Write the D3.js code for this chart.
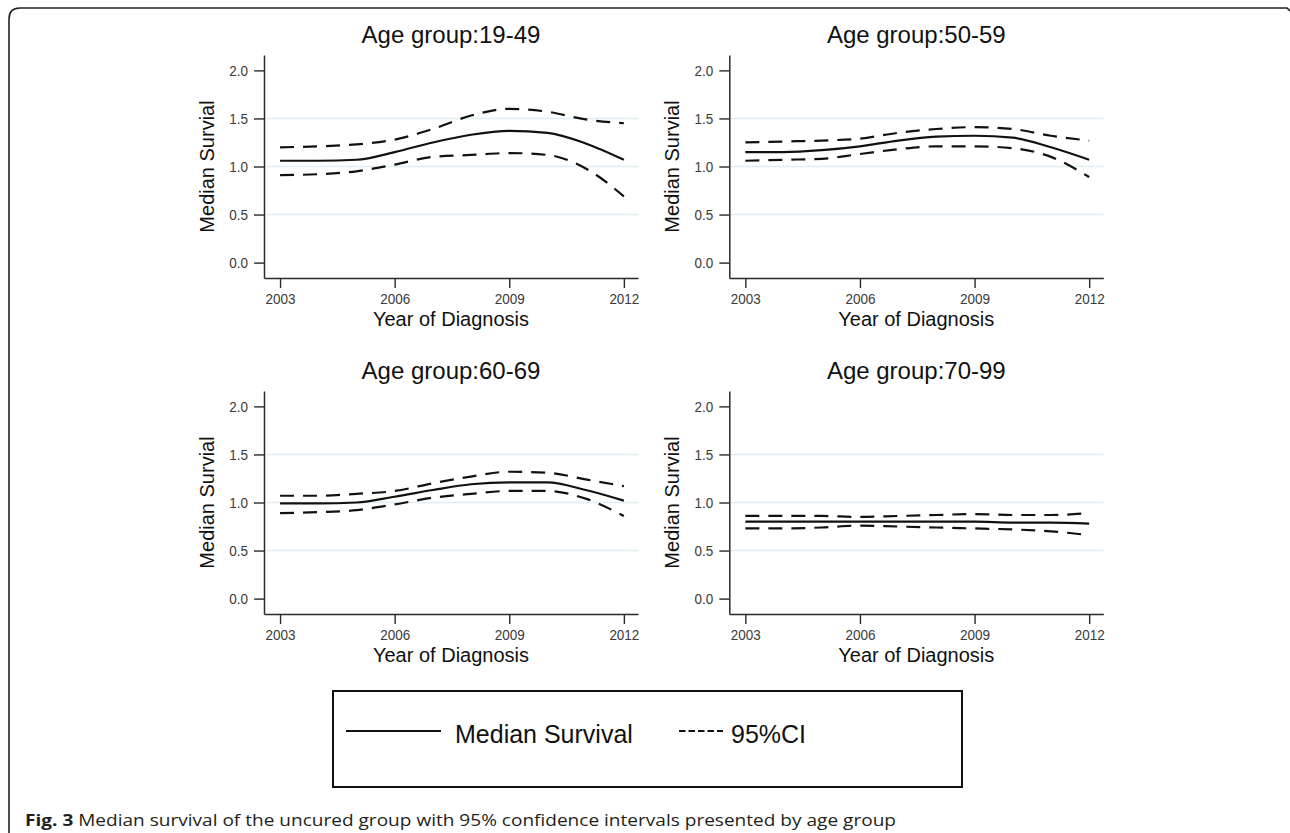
<!DOCTYPE html>
<html>
<head>
<meta charset="utf-8">
<script src="https://cdn.jsdelivr.net/npm/d3@7"></script>
<style>
  body { margin: 0; background: #fff; }
  svg { display: block; }
</style>
</head>
<body>
<svg id="chart" width="1290" height="833"></svg>
<script>
// data
var years = [2003, 2004, 2005, 2006, 2007, 2008, 2009, 2010, 2011, 2012];
var groups = ["19-49", "50-59", "60-69", "70-99"];
var yTicks = [0, 0.5, 1, 1.5, 2];
var xTicks = [2003, 2006, 2009, 2012];
var gridValues = [0.5, 1, 1.5];

var median_19_49 = [1.06, 1.06, 1.07, 1.15, 1.25, 1.33, 1.37, 1.35, 1.24, 1.07];
var upper_19_49  = [1.20, 1.21, 1.23, 1.28, 1.39, 1.53, 1.60, 1.57, 1.49, 1.45];
var lower_19_49  = [0.91, 0.92, 0.95, 1.02, 1.10, 1.12, 1.14, 1.12, 0.98, 0.69];

var median_50_59 = [1.15, 1.15, 1.17, 1.21, 1.27, 1.31, 1.32, 1.30, 1.20, 1.07];
var upper_50_59  = [1.25, 1.26, 1.27, 1.29, 1.35, 1.39, 1.41, 1.39, 1.32, 1.27];
var lower_50_59  = [1.06, 1.07, 1.08, 1.13, 1.18, 1.21, 1.21, 1.19, 1.10, 0.89];

var median_60_69 = [0.99, 0.99, 1.00, 1.06, 1.13, 1.19, 1.21, 1.21, 1.13, 1.02];
var upper_60_69  = [1.07, 1.07, 1.09, 1.12, 1.20, 1.27, 1.32, 1.31, 1.24, 1.17];
var lower_60_69  = [0.89, 0.90, 0.92, 0.98, 1.05, 1.09, 1.12, 1.12, 1.04, 0.86];

var median_70_99 = [0.80, 0.80, 0.80, 0.80, 0.80, 0.80, 0.80, 0.79, 0.79, 0.78];
var upper_70_99  = [0.86, 0.86, 0.86, 0.85, 0.86, 0.87, 0.88, 0.87, 0.87, 0.89];
var lower_70_99  = [0.73, 0.73, 0.74, 0.76, 0.75, 0.74, 0.73, 0.72, 0.70, 0.66];

var panels = [
  { name: groups[0], median: median_19_49, upper: upper_19_49, lower: lower_19_49 },
  { name: groups[1], median: median_50_59, upper: upper_50_59, lower: lower_50_59 },
  { name: groups[2], median: median_60_69, upper: upper_60_69, lower: lower_60_69 },
  { name: groups[3], median: median_70_99, upper: upper_70_99, lower: lower_70_99 }
];

var svg = d3.select("#chart");
var font = "Arial, 'Liberation Sans', sans-serif";

// outer rounded frame (runs off the right and bottom edges)
svg.append("path")
  .attr("d", "M9,833 L9,19 Q9,8 20,8 L1287,8 L1290,11")
  .attr("fill", "none")
  .attr("stroke", "#222")
  .attr("stroke-width", 1.6);

// panel geometry
var plotW = 374, plotH = 223;
var x = d3.scaleLinear().domain([2002.58, 2012.37]).range([0, plotW]);
var y = d3.scaleLinear().domain([-0.16, 2.16]).range([plotH, 0]);
var sx = 0.9; // tick labels look slightly narrow in the original

var line = d3.line()
  .x(function(d) { return x(d[0]); })
  .y(function(d) { return y(d[1]); })
  .curve(d3.curveMonotoneX);

function pairs(vals) {
  return years.map(function(yr, i) { return [yr, vals[i]]; });
}

panels.forEach(function(p, i) {
  var col = i % 2, row = Math.floor(i / 2);
  var left = 264 + col * 465.3;
  var top = 55 + row * 336;

  var g = svg.append("g").attr("transform", "translate(" + left + "," + top + ")");

  // light gridlines
  g.selectAll("line.grid").data(gridValues).enter().append("line")
    .attr("class", "grid")
    .attr("x1", 0).attr("x2", plotW)
    .attr("y1", function(d) { return y(d); })
    .attr("y2", function(d) { return y(d); })
    .attr("stroke", "#e1ecf3")
    .attr("stroke-width", 1.4);

  // axes
  var ya = g.append("g")
    .call(d3.axisLeft(y).tickValues(yTicks).tickFormat(d3.format(".1f"))
      .tickSize(10).tickSizeOuter(0).tickPadding(5));
  var xa = g.append("g").attr("transform", "translate(0," + plotH + ")")
    .call(d3.axisBottom(x).tickValues(xTicks).tickFormat(d3.format("d"))
      .tickSize(10).tickSizeOuter(0).tickPadding(5));

  [ya, xa].forEach(function(a) {
    a.select(".domain").attr("stroke", "#2a2a2a").attr("stroke-width", 1.5);
    a.selectAll(".tick line").attr("stroke", "#2a2a2a").attr("stroke-width", 1.4);
    a.selectAll(".tick text")
      .attr("fill", "#3a3a3a")
      .style("font-family", font)
      .style("font-size", "15px");
  });
  ya.selectAll(".tick text")
    .attr("x", -16 / sx)
    .attr("transform", "scale(" + sx + ",1)");
  xa.selectAll(".tick text")
    .attr("transform", "scale(" + sx + ",1)");

  // curves
  g.append("path").datum(pairs(p.upper))
    .attr("d", line).attr("fill", "none").attr("stroke", "#111")
    .attr("stroke-width", 2.2).attr("stroke-dasharray", "14,9");
  g.append("path").datum(pairs(p.lower))
    .attr("d", line).attr("fill", "none").attr("stroke", "#111")
    .attr("stroke-width", 2.2).attr("stroke-dasharray", "14,9");
  g.append("path").datum(pairs(p.median))
    .attr("d", line).attr("fill", "none").attr("stroke", "#111")
    .attr("stroke-width", 2.2);

  // titles
  g.append("text")
    .attr("x", plotW / 2).attr("y", -12)
    .attr("text-anchor", "middle")
    .style("font-family", font).style("font-size", "24px")
    .attr("fill", "#111")
    .text("Age group:" + p.name);

  g.append("text")
    .attr("x", plotW / 2).attr("y", plotH + 48)
    .attr("text-anchor", "middle")
    .style("font-family", font).style("font-size", "20px")
    .attr("fill", "#111")
    .text("Year of Diagnosis");

  g.append("text")
    .attr("transform", "translate(-50," + y(1.0) + ") rotate(-90)")
    .attr("text-anchor", "middle")
    .style("font-family", font).style("font-size", "20px")
    .attr("fill", "#111")
    .text("Median Survial");
});

// legend
var leg = svg.append("g");
leg.append("rect")
  .attr("x", 333).attr("y", 691).attr("width", 629).attr("height", 96)
  .attr("fill", "none").attr("stroke", "#111").attr("stroke-width", 2);
leg.append("line")
  .attr("x1", 346).attr("x2", 441).attr("y1", 731).attr("y2", 731)
  .attr("stroke", "#111").attr("stroke-width", 2);
leg.append("text")
  .attr("x", 455).attr("y", 743)
  .style("font-family", font).style("font-size", "25px").attr("fill", "#111")
  .text("Median Survival");
leg.append("line")
  .attr("x1", 679).attr("x2", 723).attr("y1", 731).attr("y2", 731)
  .attr("stroke", "#111").attr("stroke-width", 2).attr("stroke-dasharray", "6.5,3");
leg.append("text")
  .attr("x", 731).attr("y", 743)
  .style("font-family", font).style("font-size", "25px").attr("fill", "#111")
  .text("95%CI");

// caption
var cap = svg.append("text")
  .attr("x", 25).attr("y", 826)
  .style("font-family", "'Open Sans', 'Noto Sans', sans-serif")
  .style("font-size", "16px")
  .attr("fill", "#231f20");
cap.append("tspan").style("font-weight", "bold").text("Fig. 3");
cap.append("tspan").text(" Median survival of the uncured group with 95% confidence intervals presented by age group");
var w = cap.node().getComputedTextLength();
cap.attr("transform", "translate(25,0) scale(" + (872 / w) + ",1) translate(-25,0)");
</script>
</body>
</html>
